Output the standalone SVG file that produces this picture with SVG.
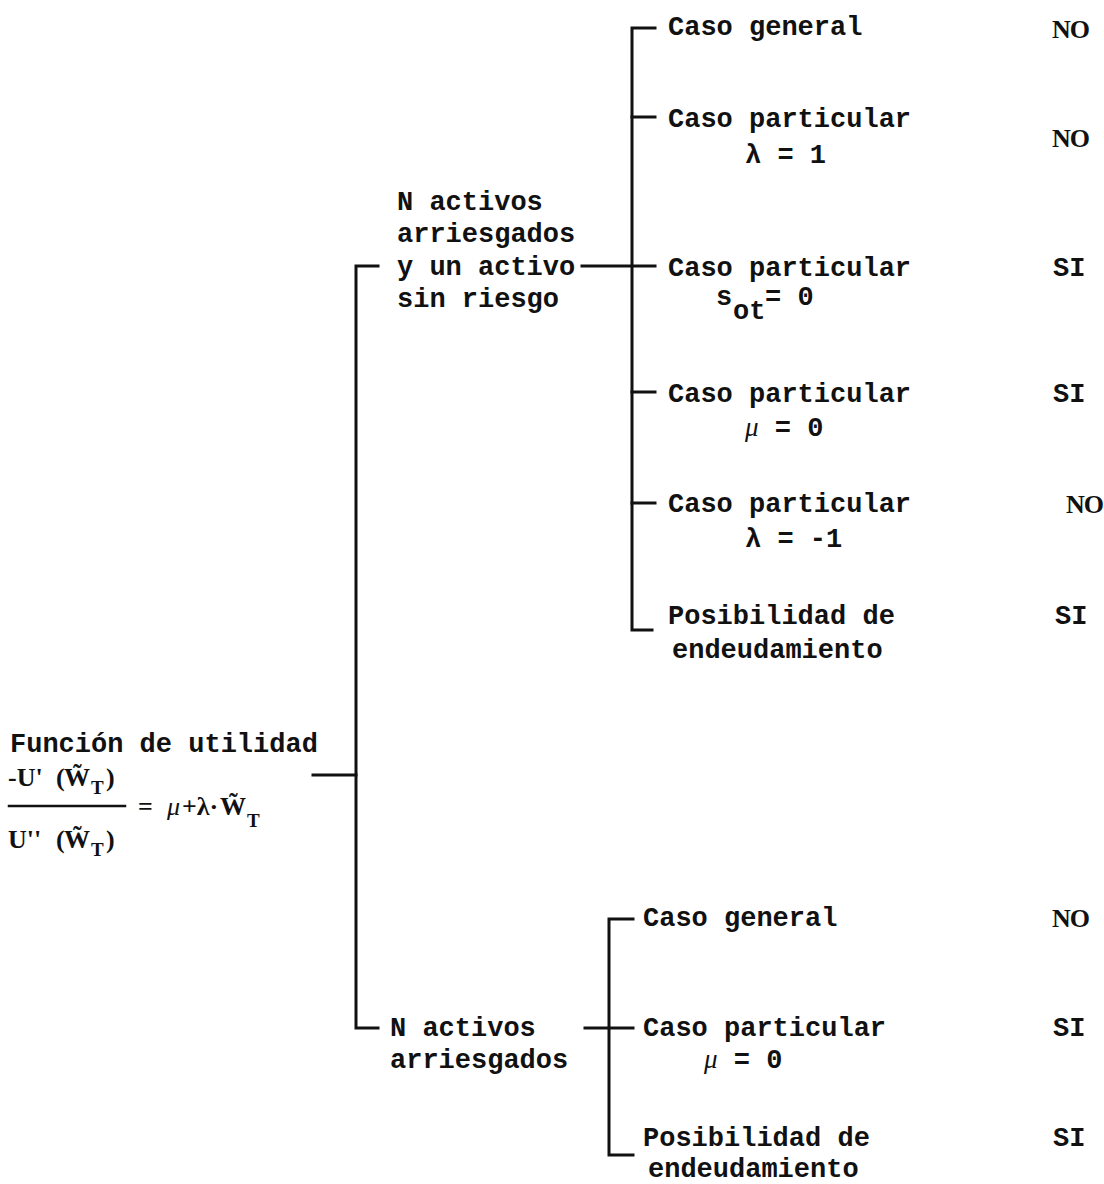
<svg xmlns="http://www.w3.org/2000/svg" width="1104" height="1184" viewBox="0 0 1104 1184">
<style>
.t{font-family:"Liberation Mono","DejaVu Sans Mono",monospace;font-size:27px;font-weight:bold;fill:#111}
.n{font-family:"Liberation Serif","Times New Roman",serif;font-size:26px;font-weight:bold;fill:#111;letter-spacing:-1px}
.f{font-family:"Liberation Serif","Times New Roman",serif;font-size:26px;font-weight:bold;fill:#111}
.mi{font-family:"Liberation Serif",serif;font-style:italic;font-weight:normal}
.sub{font-size:19px}
.ln{stroke:#111;stroke-width:3;fill:none;stroke-linecap:square}
</style>
<rect width="1104" height="1184" fill="#fff"/>
<g id="connectors" class="ln">
  <path d="M378 266 H356 V1028 H378"/>
  <path d="M313 775 H356"/>
  <path d="M655 28 H632 V630 H652"/>
  <path d="M632 117 H655"/>
  <path d="M582 266 H655"/>
  <path d="M632 392 H655"/>
  <path d="M632 503 H655"/>
  <path d="M633 919 H609 V1155 H633"/>
  <path d="M585 1028 H633"/>
  <path d="M9 806 H125" style="stroke-width:2.5"/>
</g>
<g id="root">
  <text class="t" x="10" y="752">Función de utilidad</text>
  <text class="f" x="8" y="786">-U'<tspan x="56">(</tspan><tspan x="64">W̃</tspan><tspan class="sub" x="91" dy="8">T</tspan><tspan x="106" dy="-8">)</tspan></text>
  <text class="f" x="8" y="848">U''<tspan x="56">(</tspan><tspan x="64">W̃</tspan><tspan class="sub" x="91" dy="8">T</tspan><tspan x="106" dy="-8">)</tspan></text>
  <text class="f" x="138" y="815">=<tspan class="mi" x="167">μ</tspan><tspan x="182">+λ·</tspan><tspan x="220">W̃</tspan><tspan class="sub" x="247" dy="12">T</tspan></text>
</g>
<g id="n-riesgo">
  <text class="t" x="397" y="210">N activos</text>
  <text class="t" x="397" y="242">arriesgados</text>
  <text class="t" x="397" y="275">y un activo</text>
  <text class="t" x="397" y="307">sin riesgo</text>
</g>
<g id="u-general">
  <text class="t" x="668" y="35">Caso general</text>
  <text class="n" x="1052" y="38">NO</text>
</g>
<g id="u-lambda1">
  <text class="t" x="668" y="127">Caso particular</text>
  <text class="t" x="745" y="163">λ = 1</text>
  <text class="n" x="1052" y="147">NO</text>
</g>
<g id="u-sot">
  <text class="t" x="668" y="276">Caso particular</text>
  <text class="t" x="716" y="305">s<tspan x="733" dy="14">ot</tspan><tspan x="765" dy="-14">= 0</tspan></text>
  <text class="t" x="1053" y="276">SI</text>
</g>
<g id="u-mu">
  <text class="t" x="668" y="402">Caso particular</text>
  <text class="t" x="745" y="436"><tspan class="mi">μ</tspan> = 0</text>
  <text class="t" x="1053" y="402">SI</text>
</g>
<g id="u-lambdam1">
  <text class="t" x="668" y="512">Caso particular</text>
  <text class="t" x="745" y="547">λ = -1</text>
  <text class="n" x="1066" y="513">NO</text>
</g>
<g id="u-endeud">
  <text class="t" x="668" y="624">Posibilidad de</text>
  <text class="t" x="672" y="658">endeudamiento</text>
  <text class="t" x="1055" y="624">SI</text>
</g>
<g id="n-arriesgados">
  <text class="t" x="390" y="1036">N activos</text>
  <text class="t" x="390" y="1068">arriesgados</text>
</g>
<g id="l-general">
  <text class="t" x="643" y="926">Caso general</text>
  <text class="n" x="1052" y="927">NO</text>
</g>
<g id="l-mu">
  <text class="t" x="643" y="1036">Caso particular</text>
  <text class="t" x="704" y="1068"><tspan class="mi">μ</tspan> = 0</text>
  <text class="t" x="1053" y="1036">SI</text>
</g>
<g id="l-endeud">
  <text class="t" x="643" y="1146">Posibilidad de</text>
  <text class="t" x="648" y="1177">endeudamiento</text>
  <text class="t" x="1053" y="1146">SI</text>
</g>
</svg>
